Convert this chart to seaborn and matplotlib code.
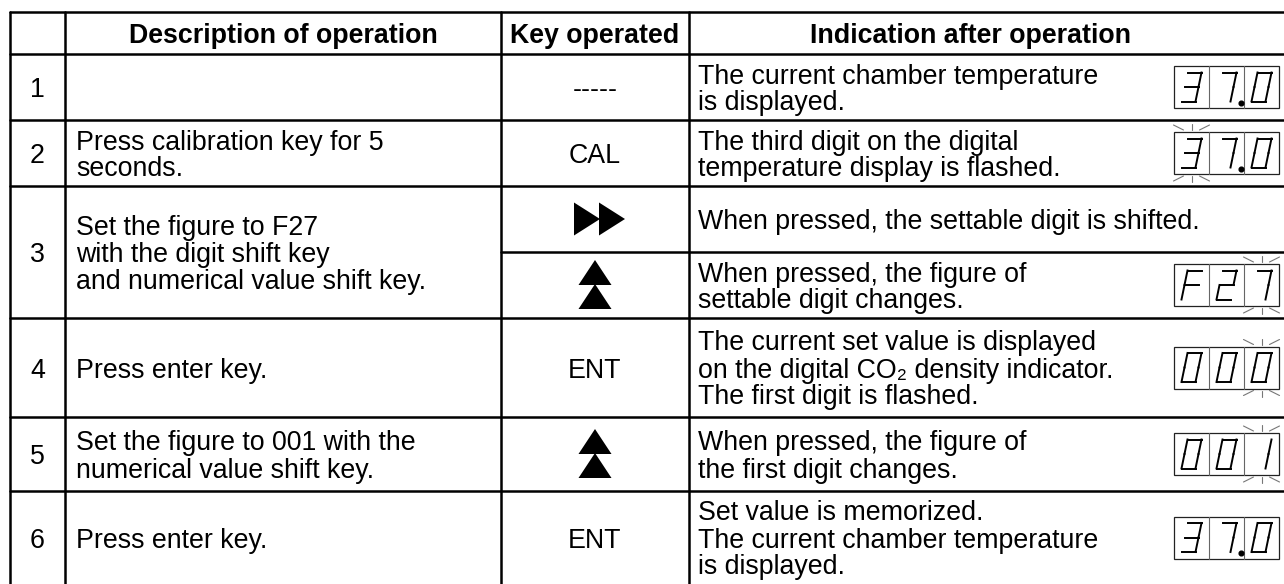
import matplotlib
matplotlib.use("Agg")
import matplotlib.pyplot as plt
import seaborn as sns
from matplotlib.patches import Rectangle, Polygon

sns.set_theme(style="white")
plt.rcParams['font.family'] = ['Liberation Sans', 'DejaVu Sans']

# table content
headers = ["", "Description of operation", "Key operated", "Indication after operation"]
step_labels = ["1", "2", "3", "4", "5", "6"]
step_rows = [[0], [1], [2, 3], [4], [5], [6]]
descriptions = [
    "",
    "Press calibration key for 5\nseconds.",
    "Set the figure to F27\nwith the digit shift key\nand numerical value shift key.",
    "Press enter key.",
    "Set the figure to 001 with the\nnumerical value shift key.",
    "Press enter key.",
]
keys = ["-----", "CAL", "right2", "up2", "ENT", "up2", "ENT"]
indications = [
    "The current chamber temperature\nis displayed.",
    "The third digit on the digital\ntemperature display is flashed.",
    "When pressed, the settable digit is shifted.",
    "When pressed, the figure of\nsettable digit changes.",
    "The current set value is displayed\non the digital CO\u2082 density indicator.\nThe first digit is flashed.",
    "When pressed, the figure of\nthe first digit changes.",
    "Set value is memorized.\nThe current chamber temperature\nis displayed.",
]
display_text = ["37.0", "37.0", "", "F27", "000", "001", "37.0"]
flash_digit = [-1, 0, -1, 2, 2, 2, -1]

# layout in pixels
col_x = [10, 65, 501, 689, 1284]
row_y = [12, 54, 120, 186, 252, 318, 417, 491, 584]
pitch = 27
fs = 19.3
disp_x0, disp_w, disp_h = 1174, 105, 42

SEGS = {
    "a": ((0, 1), (1, 1)), "b": ((1, 1), (1, 0.5)), "c": ((1, 0.5), (1, 0)),
    "d": ((0, 0), (1, 0)), "e": ((0, 0), (0, 0.5)), "f": ((0, 0.5), (0, 1)),
    "g": ((0, 0.5), (1, 0.5)),
}
DIGITS = {"0": "abcdef", "1": "bc", "2": "abged", "3": "abcdg", "7": "abc", "F": "aefg"}

fig = plt.figure(figsize=(12.84, 5.84), dpi=100)
ax = fig.add_axes([0, 0, 1, 1])
ax.set_xlim(0, 1284)
ax.set_ylim(584, 0)
ax.axis("off")


def lines_text(x, yc, text, ha="left", **kw):
    parts = text.split("\n")
    n = len(parts)
    for i, p in enumerate(parts):
        y = yc + (i - (n - 1) / 2) * pitch
        ax.text(x, y, p, ha=ha, va="center_baseline", fontsize=fs, color="black", **kw)


def draw_display(yc, text, flash):
    chars = []
    for ch in text:
        if ch == ".":
            chars[-1][1] = True
        else:
            chars.append([ch, False])
    top = yc - disp_h / 2
    cw = disp_w / 3
    ax.add_patch(Rectangle((disp_x0, top), disp_w, disp_h, fill=False, lw=0.9, ec="#222"))
    for k in (1, 2):
        ax.plot([disp_x0 + k * cw] * 2, [top, top + disp_h], color="#666", lw=0.8)
    w, h, sl = 14, 29, 6
    for i, (ch, dot) in enumerate(chars):
        cx = disp_x0 + (i + 0.5) * cw
        x0 = cx - (w + sl) / 2
        yb = yc + h / 2
        for s in DIGITS[ch]:
            (u1, v1), (u2, v2) = SEGS[s]
            ax.plot([x0 + u1 * w + v1 * sl, x0 + u2 * w + v2 * sl],
                    [yb - v1 * h, yb - v2 * h], color="black", lw=1.4,
                    solid_capstyle="projecting")
        if dot:
            ax.plot(disp_x0 + (i + 1) * cw - 3.5, yb + 1, "o", color="black", ms=3.4)
        if i == flash:
            for sgn in (-1, 1):
                ybase = top if sgn == -1 else top + disp_h
                ax.plot([cx, cx], [ybase + sgn * 2, ybase + sgn * 8], color="#777", lw=0.8)
                for side in (-1, 1):
                    ax.plot([cx + side * 8, cx + side * 18],
                            [ybase + sgn * 2, ybase + sgn * 7], color="#777", lw=0.8)


def draw_key(xc, yc, key):
    if key == "right2":
        for dx in (-20, 5):
            ax.add_patch(Polygon([(xc + dx - 1, yc - 16.5), (xc + dx - 1, yc + 16.5), (xc + dx + 25, yc)],
                                 closed=True, color="black", lw=0))
    elif key == "up2":
        for dy in (-25, -1):
            ax.add_patch(Polygon([(xc - 16.5, yc + dy + 25), (xc + 16.5, yc + dy + 25), (xc, yc + dy)],
                                 closed=True, color="black", lw=0))
    else:
        lines_text(xc, yc, key, ha="center")


# grid lines
lw = 1.8
ax.plot([col_x[0], 1284], [row_y[0]] * 2, color="black", lw=lw)
for j, y in enumerate(row_y[1:-1], start=1):
    x_start = col_x[2] if j == 4 else col_x[0]
    ax.plot([x_start, 1284], [y, y], color="black", lw=lw)
for x in col_x[:-1]:
    ax.plot([x, x], [row_y[0], 584], color="black", lw=lw)

# header
hy = (row_y[0] + row_y[1]) / 2
for c in range(1, 4):
    xc = (col_x[c] + col_x[c + 1]) / 2 if c < 3 else 970
    ax.text(xc, hy, headers[c], ha="center", va="center_baseline", fontsize=19.3,
            fontweight="bold", color="black")

# step number and description
for lab, rows, desc in zip(step_labels, step_rows, descriptions):
    yc = (row_y[rows[0] + 1] + row_y[rows[-1] + 2]) / 2
    lines_text((col_x[0] + col_x[1]) / 2, yc, lab, ha="center")
    if desc:
        lines_text(col_x[1] + 11, yc, desc)

# key, indication, display per sub-row
for r in range(len(keys)):
    yc = (row_y[r + 1] + row_y[r + 2]) / 2
    draw_key((col_x[2] + col_x[3]) / 2, yc, keys[r])
    lines_text(col_x[3] + 9, yc, indications[r])
    if display_text[r]:
        draw_display(yc, display_text[r], flash_digit[r])

fig.savefig("out.png", dpi=100)
